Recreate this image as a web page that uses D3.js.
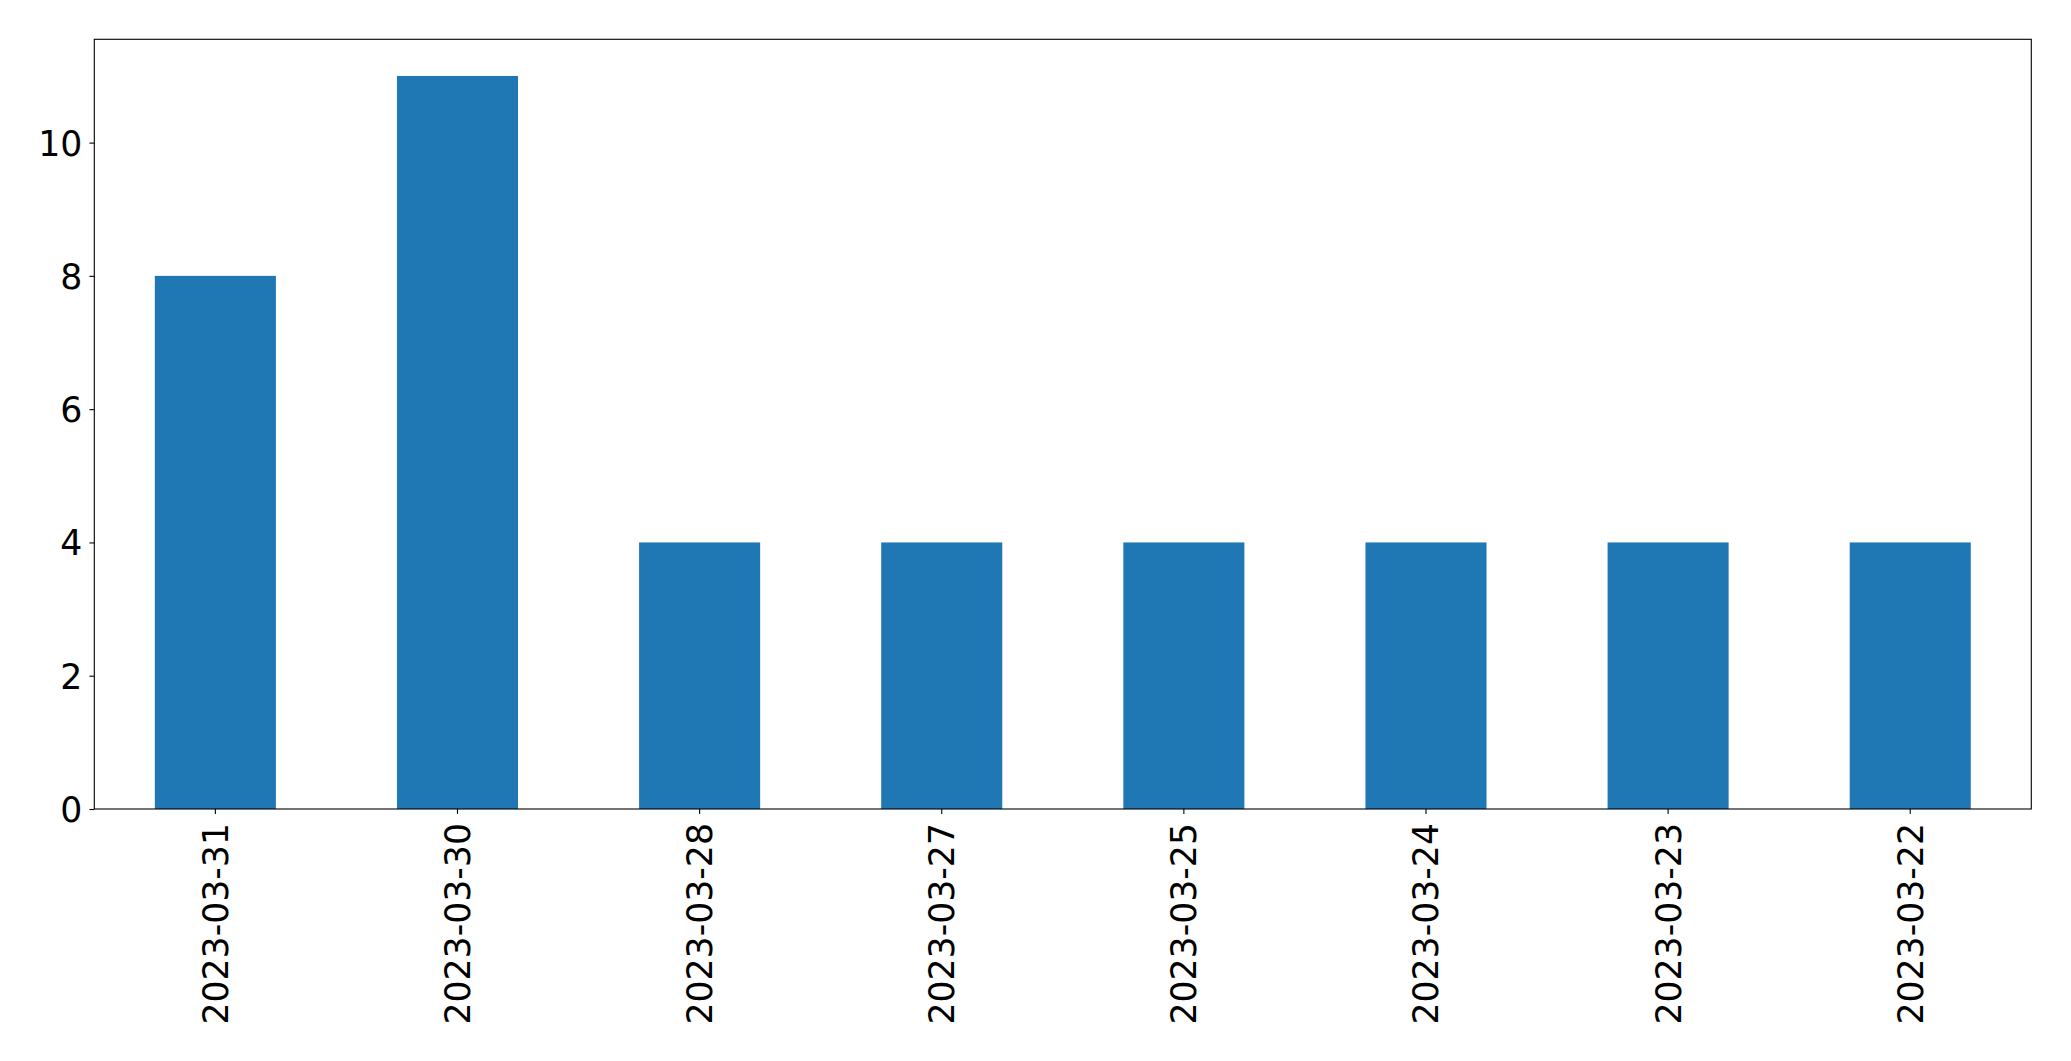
<!DOCTYPE html>
<html><head><meta charset="utf-8">
<script src="https://cdn.jsdelivr.net/npm/d3@7"></script>
<style>html,body{margin:0;padding:0;background:#fff;}svg{display:block;}</style>
</head><body>
<script>
const categories = ["2023-03-31","2023-03-30","2023-03-28","2023-03-27","2023-03-25","2023-03-24","2023-03-23","2023-03-22"];
const values = [8, 11, 4, 4, 4, 4, 4, 4];
const yTicks = [0, 2, 4, 6, 8, 10];

(function () {
const W = 2071, H = 1061;
const mLeft = 94.3, mRight = 2031.3, mTop = 39.3, mBottom = 809;
const svg = d3.select("body").append("svg").attr("width", W).attr("height", H);

const x = d3.scaleBand().domain(categories).range([mLeft, mRight]).paddingInner(0.5).paddingOuter(0.25);
const yMax = d3.max(values) * 1.05;
const y = d3.scaleLinear().domain([0, yMax]).range([mBottom, mTop]);

svg.append("g").selectAll("rect").data(values).join("rect")
  .attr("x", (d, i) => x(categories[i]))
  .attr("width", x.bandwidth())
  .attr("y", d => y(d))
  .attr("height", d => y(0) - y(d))
  .attr("fill", "#1f77b4");

const font = "DejaVu Sans, sans-serif";
const fs = "34.7px";

const yAxis = svg.append("g").attr("transform", `translate(${mLeft},0)`)
  .call(d3.axisLeft(y).tickValues(yTicks).tickFormat(d3.format("d")).tickSize(4.9).tickPadding(7));
yAxis.select(".domain").remove();
yAxis.selectAll("line").attr("stroke", "#000").attr("stroke-width", 1.1);
yAxis.selectAll("text").attr("font-family", font).attr("font-size", fs).attr("fill", "#000").attr("dy", "0.36em");

const xAxis = svg.append("g").attr("transform", `translate(0,${mBottom})`)
  .call(d3.axisBottom(x).tickSize(4.9).tickPadding(0));
xAxis.select(".domain").remove();
xAxis.selectAll("line").attr("stroke", "#000").attr("stroke-width", 1.1);
xAxis.selectAll("text")
  .attr("font-family", font).attr("font-size", fs).attr("fill", "#000")
  .attr("text-anchor", "end")
  .attr("transform", "translate(0,14) rotate(-90)")
  .attr("x", 0).attr("y", 0).attr("dy", "0.36em");

svg.append("rect").attr("x", mLeft).attr("y", mTop).attr("width", mRight - mLeft).attr("height", mBottom - mTop)
  .attr("fill", "none").attr("stroke", "#000").attr("stroke-width", 1.1);
})();
</script>
</body></html>
